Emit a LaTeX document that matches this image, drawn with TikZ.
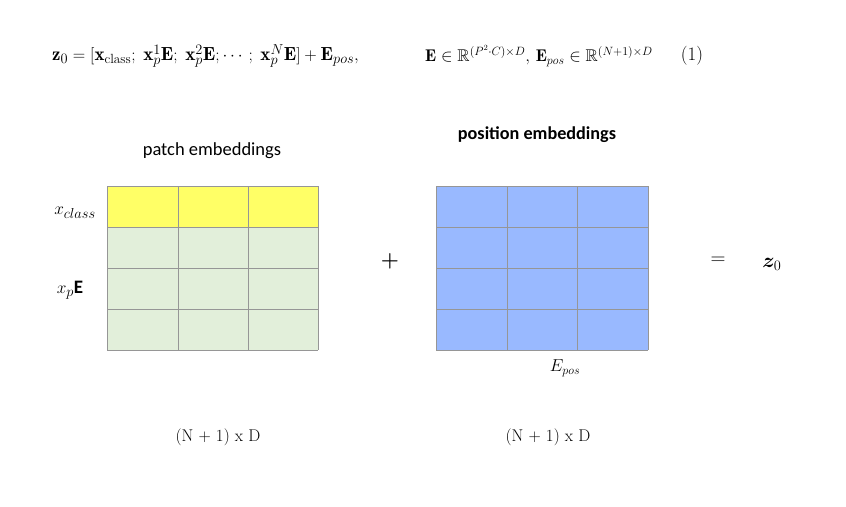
\documentclass[tikz,border=0pt]{standalone}
\usepackage{amsmath,amssymb,bm}
\usepackage{fontspec}
\newfontfamily\calibri{Carlito}
\definecolor{cyell}{RGB}{255,255,102}
\definecolor{cgreen}{RGB}{226,239,218}
\definecolor{cblue}{RGB}{153,185,255}
\definecolor{cgrid}{RGB}{150,150,150}
\tikzset{
  cellbox/.style={draw=cgrid, line width=0.9pt},
  lbl/.style={inner sep=0pt, font=\calibri\fontsize{18.5}{20}\selectfont},
  mth/.style={inner sep=0pt, font=\fontsize{15}{18}\selectfont},
  eqf/.style={inner sep=0pt, font=\fontsize{19}{22}\selectfont}
}
\begin{document}
\begin{tikzpicture}[x=1pt,y=-1pt]
\useasboundingbox (0,0) rectangle (846,506);
% equation
\node[eqf, anchor=west] (eq) at (52,56)
  {$\mathbf{z}_0 = [\mathbf{x}_{\text{class}};\; \mathbf{x}^1_p\mathbf{E};\; \mathbf{x}^2_p\mathbf{E};\cdots;\; \mathbf{x}^N_p\mathbf{E}] + \mathbf{E}_{pos},$};
\node[eqf, anchor=west, font=\fontsize{17}{20}\selectfont] (eq2) at (425,56)
  {$\mathbf{E}\in\mathbb{R}^{(P^2\cdot C)\times D},\, \mathbf{E}_{pos}\in\mathbb{R}^{(N+1)\times D}$};
\node[eqf] (eqn) at (692,56) {(1)};
% left grid
\fill[cyell] (107,186) rectangle (318,227);
\fill[cgreen] (107,227) rectangle (318,350);
\foreach \x in {107,178,248,318} \draw[cellbox] (\x,186) -- (\x,350);
\foreach \y in {186,227,268,309,350} \draw[cellbox] (107,\y) -- (318,\y);
% right grid
\fill[cblue] (436,186) rectangle (648,350);
\foreach \x in {436,507,577,648} \draw[cellbox] (\x,186) -- (\x,350);
\foreach \y in {186,227,268,309,350} \draw[cellbox] (436,\y) -- (648,\y);
% labels
\node[lbl] (pe) at (212,151) {patch embeddings};
\node[lbl, font=\calibri\bfseries\fontsize{18.2}{20}\selectfont] (pos) at (537,135) {position embeddings};
\node[mth, font=\fontsize{19}{22}\selectfont] (xc) at (75,213) {$x_{class}$};
\node[mth, font=\fontsize{19}{22}\selectfont] (xp) at (70,290) {$x_p$\calibri\bfseries E};
\node[mth, font=\fontsize{22}{24}\selectfont] (plus) at (390,261) {$\bm{+}$};
\node[mth, font=\fontsize{20}{22}\selectfont] (eqs) at (718,261) {$=$};
\node[mth, font=\fontsize{21}{24}\selectfont] (z0) at (772,264) {$\bm{z}_0$};
\node[mth, font=\fontsize{18}{20}\selectfont] (ep) at (565,368) {$E_{pos}$};
\node[mth, font=\fontsize{17}{20}\selectfont] (d1) at (218,437) {(N + 1) x D};
\node[mth, font=\fontsize{17}{20}\selectfont] (d2) at (548,437) {(N + 1) x D};
\end{tikzpicture}
\end{document}
